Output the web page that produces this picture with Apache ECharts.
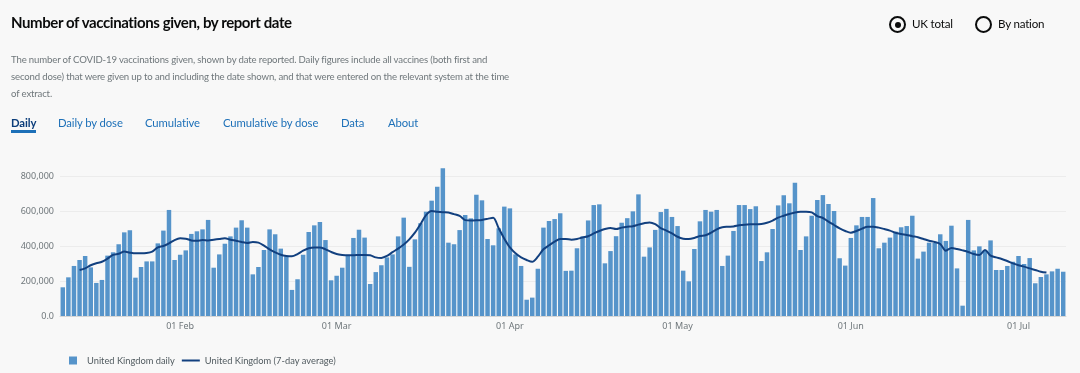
<!DOCTYPE html>
<html>
<head>
<meta charset="utf-8">
<script src="https://cdn.jsdelivr.net/npm/echarts@6/dist/echarts.min.js"></script>
<style>
  html, body { margin:0; padding:0; width:1080px; height:373px; background:#f8f8f8; overflow:hidden; font-family:Lato, sans-serif; }
  #chart { position:absolute; left:0; top:0; width:1080px; height:373px; }
  .title { position:absolute; left:11px; top:13px; font-size:15px; letter-spacing:-0.4px; font-weight:700; color:#0b0c0c; white-space:nowrap; }
  .desc { position:absolute; left:11px; top:51px; font-size:9.6px; letter-spacing:-0.15px; line-height:17px; color:#6f777b; white-space:nowrap; }
  .tabs { position:absolute; left:11px; top:116px; font-size:11.3px; letter-spacing:-0.1px; color:#1d70b8; white-space:nowrap; }
  .tabs span { position:absolute; top:0; }
  .tabs .active { font-weight:700; color:#0b3d7a; border-bottom:3px solid #1d70b8; padding-bottom:1px; }
  .radio { position:absolute; top:16px; font-size:11.6px; letter-spacing:-0.2px; color:#0b0c0c; }
  .radio .c { position:absolute; top:0; left:0; width:17px; height:17px; border:2px solid #0b0c0c; border-radius:50%; box-sizing:border-box; }
  .radio .c.on::after { content:""; position:absolute; left:3.5px; top:3.5px; width:6px; height:6px; border-radius:50%; background:#0b0c0c; }
  .radio .t { position:absolute; left:23px; top:1px; white-space:nowrap; }
</style>
</head>
<body>
<div id="chart"></div>
<div class="title">Number of vaccinations given, by report date</div>
<div class="desc">The number of COVID-19 vaccinations given, shown by date reported. Daily figures include all vaccines (both first and<br>second dose) that were given up to and including the date shown, and that were entered on the relevant system at the time<br>of extract.</div>
<div class="tabs">
  <span class="active" style="left:0">Daily</span>
  <span style="left:47px">Daily by dose</span>
  <span style="left:134px">Cumulative</span>
  <span style="left:212px">Cumulative by dose</span>
  <span style="left:330px">Data</span>
  <span style="left:377px">About</span>
</div>
<div class="radio" style="left:889px"><div class="c on"></div><div class="t">UK total</div></div>
<div class="radio" style="left:975px"><div class="c"></div><div class="t">By nation</div></div>
<script>
// Report dates run daily from 11 Jan 2021 to 9 Jul 2021
const startDate = [2021, 0, 11];
const dayCount = 180;
const monthNames = ['Jan','Feb','Mar','Apr','May','Jun','Jul'];
const tickLabels = ['01 Feb','01 Mar','01 Apr','01 May','01 Jun','01 Jul'];
const yTicks = [0, 200000, 400000, 600000, 800000];

// United Kingdom daily vaccinations (thousands)
const dailyK = [
164,221,286,320,343,278,189,206,345,364,
410,478,490,219,280,312,312,415,488,606,
320,350,375,469,484,495,549,276,352,413,
455,505,547,505,238,280,377,495,467,385,
341,149,210,350,480,518,537,434,204,230,
276,349,446,493,448,183,251,290,335,352,
455,562,281,438,530,596,659,739,844,419,
410,491,577,558,693,661,440,404,501,625,
615,352,286,93,105,270,505,543,554,587,
258,259,387,455,546,634,638,301,371,456,
533,559,598,695,339,392,492,594,612,566,
514,259,198,383,541,606,596,606,286,345,
486,634,634,611,627,314,364,497,632,690,
644,762,377,455,573,663,691,640,600,330,
288,446,518,566,566,674,387,419,448,482,
507,514,573,328,368,419,419,467,429,516,
272,59,549,375,398,377,432,263,263,286,
310,343,297,331,187,223,238,255,270,253
];

// United Kingdom 7-day average (thousands), centred; null where not shown
const avgK = [
null,null,null,263,272,290,301,310,328,349,
356,368,362,358,358,360,368,392,400,415,
434,444,442,432,430,434,432,436,440,444,
436,430,423,417,423,419,402,381,364,350,
343,341,354,373,387,392,392,381,366,354,
349,347,347,349,349,347,335,332,343,365,
385,408,438,476,525,577,600,596,593,591,
582,572,548,546,547,549,555,562,501,442,
392,358,335,320,310,339,381,404,425,440,
440,436,440,449,456,472,486,497,503,497,
505,510,513,522,530,535,525,502,488,472,
453,442,440,446,457,461,476,495,507,510,
512,518,522,524,524,526,533,545,562,573,
583,592,596,596,592,571,560,539,520,501,
486,476,486,499,510,510,505,497,488,476,
469,463,456,450,440,430,423,411,373,389,
383,375,366,354,349,377,345,335,326,314,
301,290,282,272,263,253,248,null,null,null
];

const categories = [];
for (let i = 0; i < dayCount; i++) {
  const d = new Date(startDate[0], startDate[1], startDate[2] + i);
  const dd = String(d.getDate()).padStart(2, '0');
  categories.push(dd + ' ' + monthNames[d.getMonth()]);
}
const daily = dailyK.map(v => v * 1000);
const avg = avgK.map(v => v === null ? null : v * 1000);

const chart = echarts.init(document.getElementById('chart'), null, { renderer: 'canvas' });
const isTick = (idx, val) => tickLabels.indexOf(val) >= 0;
chart.setOption({
  animation: false,
  backgroundColor: 'transparent',
  textStyle: { fontFamily: 'Noto Sans' },
  grid: { left: 60, right: 14, top: 162, bottom: 57, containLabel: false },
  legend: {
    left: 64, top: 351, itemGap: 7, itemWidth: 18, itemHeight: 8,
    textStyle: { fontSize: 9.3, color: '#505a5f', fontFamily: 'Lato' },
    data: [
      { name: 'United Kingdom daily', icon: 'path://M0,0h8v8h-8z', itemStyle: { color: '#5694ca' } },
      { name: 'United Kingdom (7-day average)', icon: 'path://M0,0h18v2h-18z', itemStyle: { color: '#12407f' } }
    ]
  },
  xAxis: {
    type: 'category', data: categories,
    axisLine: { lineStyle: { color: '#d6d6d6' } },
    axisTick: { interval: isTick, alignWithLabel: true, length: 4, lineStyle: { color: '#888' } },
    axisLabel: { interval: isTick, color: '#6f777b', fontSize: 9, margin: 6 }
  },
  yAxis: {
    type: 'value', min: 0, max: 880000, interval: 200000,
    axisLine: { show: false }, axisTick: { show: false },
    axisLabel: {
      color: '#6f777b', fontSize: 9, margin: 6, showMaxLabel: false,
      formatter: v => yTicks.indexOf(v) < 0 ? '' : (v === 0 ? '0.0' : v.toLocaleString('en-GB'))
    },
    splitLine: { lineStyle: { color: ['#e8e8e8','#ececec','#ececec','#ececec','#ececec','rgba(0,0,0,0)'], width: 1 } }
  },
  series: [
    {
      name: 'United Kingdom daily', type: 'bar', data: daily,
      barCategoryGap: '20%',
      itemStyle: { color: '#5694ca' }
    },
    {
      name: 'United Kingdom (7-day average)', type: 'line', data: avg,
      symbol: 'none', smooth: 0.3, connectNulls: false,
      lineStyle: { color: '#12407f', width: 2 },
      itemStyle: { color: '#12407f' }
    }
  ]
});
</script>
</body>
</html>
